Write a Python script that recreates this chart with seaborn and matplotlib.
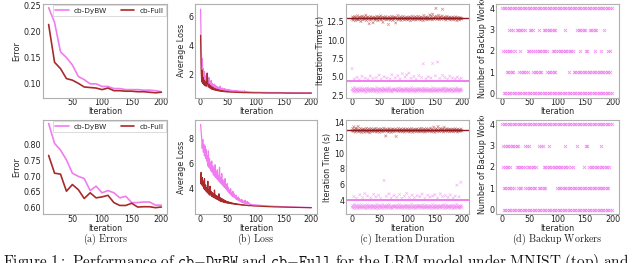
import numpy as np
import pandas as pd
import matplotlib
matplotlib.use('Agg')
import matplotlib.pyplot as plt
from matplotlib.transforms import Bbox, TransformedBbox
import seaborn as sns

sns.set_theme(style='ticks')
plt.rcParams['font.family'] = ['DejaVu Sans']
plt.rcParams['mathtext.fontset'] = 'cm'

PINK = '#f07cf0'
RED = '#a82a2a'
FS = 5.8

# ---------------- data ----------------
err_iters = [10, 20, 30, 40, 50, 60, 70, 80, 90, 100,
             110, 120, 130, 140, 150, 160, 170, 180, 190, 200]
err_dybw_top = [0.245, 0.217, 0.161, 0.150, 0.136, 0.114, 0.108, 0.100, 0.100, 0.095,
                0.095, 0.091, 0.091, 0.089, 0.089, 0.089, 0.088, 0.088, 0.087, 0.085]
err_full_top = [0.213, 0.141, 0.129, 0.110, 0.107, 0.101, 0.094, 0.093, 0.092, 0.089,
                0.092, 0.087, 0.087, 0.086, 0.086, 0.085, 0.085, 0.084, 0.083, 0.084]
err_dybw_bot = [0.866, 0.803, 0.782, 0.751, 0.709, 0.699, 0.692, 0.654, 0.668, 0.647,
                0.654, 0.647, 0.631, 0.636, 0.616, 0.616, 0.618, 0.618, 0.608, 0.608]
err_full_bot = [0.765, 0.709, 0.706, 0.652, 0.673, 0.657, 0.629, 0.647, 0.631, 0.634,
                0.639, 0.616, 0.607, 0.607, 0.614, 0.602, 0.603, 0.603, 0.600, 0.602]

loss_iters = list(range(1, 91)) + list(range(95, 201, 5))
loss_dybw_top = [6.5, 4.3, 2.6, 3.1, 1.9, 2.4, 1.6, 2.2, 1.5, 1.9,
                 1.4, 2.1, 1.3, 1.7, 1.45, 1.8, 1.2, 1.5, 1.3, 1.6,
                 1.1, 1.4, 1.2, 1.3, 1.0, 1.35, 1.1, 1.25, 1.0, 1.2,
                 0.98, 1.15, 1.05, 1.1, 0.95, 1.2, 0.97, 1.05, 0.95, 1.08,
                 0.93, 1.02, 0.92, 1.05, 0.9, 1.0, 0.92, 0.97, 0.89, 0.98,
                 0.88, 0.95, 0.9, 0.96, 0.87, 0.93, 0.88, 0.91, 0.86, 0.92,
                 0.86, 0.9, 0.85, 0.91, 0.85, 0.88, 0.84, 0.89, 0.84, 0.87,
                 0.83, 0.88, 0.83, 0.86, 0.82, 0.87, 0.82, 0.85, 0.82, 0.9,
                 0.81, 0.84, 0.81, 0.83, 0.8, 0.83, 0.8, 0.82, 0.8, 0.81,
                 0.8, 0.79, 0.79, 0.78, 0.78, 0.78, 0.77, 0.77, 0.77, 0.77, 0.76,
                 0.76, 0.76, 0.76, 0.76, 0.75, 0.75, 0.75, 0.75, 0.75, 0.75, 0.75]
loss_full_top = [4.7, 2.4, 1.5, 2.3, 1.4, 1.8, 1.3, 1.6, 1.25, 1.5,
                 1.2, 1.5, 2.1, 1.3, 1.15, 1.35, 1.1, 1.25, 1.05, 1.2,
                 1.0, 1.15, 0.98, 1.1, 0.95, 1.05, 0.93, 1.02, 0.92, 1.0,
                 0.9, 0.98, 0.88, 0.95, 0.87, 0.93, 0.86, 0.91, 0.85, 0.9,
                 0.84, 0.88, 0.83, 0.87, 0.82, 0.86, 0.82, 0.85, 0.81, 0.84,
                 0.81, 0.83, 0.8, 0.82, 0.8, 0.82, 0.79, 0.81, 0.79, 0.8,
                 0.79, 0.8, 0.78, 0.8, 0.78, 0.79, 0.78, 0.79, 0.77, 0.79,
                 0.77, 0.78, 0.77, 0.78, 0.77, 0.78, 0.76, 0.77, 0.76, 0.77,
                 0.76, 0.77, 0.76, 0.77, 0.76, 0.76, 0.75, 0.76, 0.75, 0.76,
                 0.75, 0.75, 0.75, 0.75, 0.74, 0.74, 0.74, 0.74, 0.74, 0.74, 0.74,
                 0.74, 0.73, 0.73, 0.73, 0.73, 0.73, 0.73, 0.73, 0.73, 0.73, 0.73]
loss_dybw_bot = [9.1, 8.6, 8.0, 7.2, 7.9, 6.9, 7.5, 6.6, 7.4, 6.4,
                 7.1, 6.2, 6.6, 5.8, 7.0, 5.7, 6.4, 5.6, 6.1, 5.4,
                 6.2, 5.3, 5.8, 5.1, 5.6, 5.0, 5.9, 4.9, 5.3, 4.8,
                 5.5, 4.7, 5.0, 4.6, 5.7, 4.5, 4.9, 4.4, 5.2, 4.3,
                 4.7, 4.2, 4.5, 4.1, 4.8, 4.0, 4.3, 3.9, 4.4, 3.8,
                 4.1, 3.7, 3.9, 3.6, 4.0, 3.5, 3.7, 3.4, 3.8, 3.35,
                 3.6, 3.3, 3.45, 3.2, 3.5, 3.15, 3.3, 3.1, 3.35, 3.05,
                 3.2, 3.0, 3.1, 2.95, 3.15, 2.9, 3.05, 2.88, 3.0, 2.85,
                 3.1, 2.85, 2.95, 2.82, 3.0, 2.8, 2.9, 2.78, 2.85, 2.76,
                 2.74, 2.72, 2.7, 2.68, 2.66, 2.65, 2.63, 2.62, 2.61, 2.6, 2.59,
                 2.58, 2.57, 2.56, 2.55, 2.55, 2.54, 2.53, 2.53, 2.52, 2.52, 2.51]
loss_full_bot = [4.4, 5.3, 4.3, 4.9, 4.2, 4.6, 4.0, 4.8, 3.9, 4.3,
                 3.8, 4.1, 3.7, 4.6, 3.6, 3.9, 3.5, 4.2, 3.5, 3.8,
                 3.4, 3.7, 3.35, 3.6, 3.3, 3.9, 3.25, 3.5, 3.2, 3.45,
                 3.15, 3.4, 3.1, 3.6, 3.05, 3.3, 3.0, 3.25, 2.98, 3.2,
                 2.95, 3.15, 2.92, 3.1, 2.9, 3.05, 2.88, 3.0, 2.86, 2.98,
                 2.85, 2.95, 2.83, 2.92, 2.82, 2.9, 2.8, 2.88, 2.79, 2.85,
                 2.78, 2.84, 2.77, 2.82, 2.76, 2.8, 2.75, 2.79, 2.74, 2.78,
                 2.73, 2.77, 2.72, 2.75, 2.71, 2.74, 2.7, 2.73, 2.69, 2.72,
                 2.69, 2.71, 2.68, 2.7, 2.67, 2.69, 2.66, 2.68, 2.65, 2.67,
                 2.64, 2.63, 2.62, 2.61, 2.6, 2.59, 2.58, 2.57, 2.56, 2.56, 2.55,
                 2.55, 2.54, 2.54, 2.53, 2.53, 2.52, 2.52, 2.51, 2.51, 2.5, 2.5]

# iteration duration, one value per iteration 0..199
time_iters = list(range(200))
time_full_top = [
    12.84, 13.12, 12.71, 13.03, 12.92, 13.21, 12.63, 13.05, 12.88, 12.79, 13.31, 12.74, 13.02, 12.95, 13.14, 12.81, 12.52, 13.06, 13.24, 12.93,
    12.76, 13.01, 13.17, 12.85, 12.97, 13.38, 12.66, 13.08, 12.83, 13.13, 12.91, 12.22, 13.04, 12.73, 13.19, 12.94, 12.82, 13.07, 12.35, 12.96,
    13.11, 12.87, 12.72, 13.02, 12.93, 13.23, 12.86, 12.64, 13.04, 13.15, 12.98, 12.81, 13.29, 12.75, 13.06, 12.92, 12.41, 13.12, 12.84, 13.03,
    12.95, 13.18, 12.77, 12.91, 13.05, 12.83, 12.12, 13.14, 12.96, 12.71, 13.02, 12.87, 13.22, 12.94, 12.68, 13.07, 12.85, 13.13, 12.99, 12.33,
    13.04, 12.82, 12.94, 13.33, 12.76, 13.01, 12.93, 12.86, 13.16, 12.67, 12.92, 13.06, 12.84, 13.21, 12.97, 12.74, 13.03, 12.95, 12.81, 13.12,
    12.93, 12.73, 13.05, 12.84, 13.14, 12.96, 12.62, 13.02, 12.87, 13.24, 12.91, 12.78, 13.07, 12.83, 12.98, 13.17, 12.72, 13.04, 12.94, 12.86,
    13.22, 12.95, 12.83, 13.06, 12.74, 13.13, 12.92, 12.85, 13.03, 12.65, 13.34, 12.97, 12.81, 13.05, 12.93, 13.15, 12.76, 12.96, 13.08, 12.84,
    12.91, 13.42, 12.86, 13.04, 13.25, 12.75, 13.51, 12.94, 13.02, 12.83, 13.16, 12.95, 14.31, 13.23, 12.82, 13.07, 12.93, 13.36, 12.77, 13.05,
    13.13, 12.92, 12.84, 13.27, 14.18, 12.96, 13.04, 12.85, 13.14, 12.93, 12.73, 13.02, 13.21, 12.94, 12.86, 13.05, 12.92, 13.11, 12.74, 12.97,
    13.03, 12.85, 12.94, 13.12, 12.76, 13.01, 12.92, 12.83, 13.15, 12.95, 12.64, 13.06, 12.84, 12.93, 13.04, 12.73, 12.96, 13.02, 12.87, 12.91]
time_dybw_top = [
    3.18, 3.42, 3.02, 3.31, 3.12, 3.55, 2.93, 3.27, 3.21, 3.38, 3.09, 2.98, 3.44, 3.16, 3.29, 3.04, 3.23, 3.51, 3.11, 3.34,
    3.03, 3.26, 3.19, 3.41, 3.08, 2.91, 3.33, 3.22, 3.48, 3.01, 3.17, 3.39, 3.13, 3.28, 2.99, 3.24, 3.43, 3.06, 3.32, 3.15,
    3.37, 3.11, 2.96, 3.29, 3.2, 3.53, 3.07, 3.25, 2.92, 3.35, 3.18, 3.41, 3.02, 3.3, 3.1, 3.23, 3.49, 2.97, 3.21, 3.36,
    3.12, 3.31, 3.19, 2.99, 3.45, 3.22, 3.08, 3.34, 3.52, 3.01, 3.17, 3.28, 3.09, 2.94, 3.32, 3.2, 3.4, 3.13, 3.24, 3.3,
    3.21, 3.0, 3.43, 3.1, 3.27, 3.16, 3.5, 3.04, 3.19, 3.33, 3.07, 3.38, 3.22, 2.98, 3.29, 3.11, 3.25, 3.44, 3.03, 3.35,
    3.28, 3.06, 3.2, 3.41, 2.97, 3.18, 3.31, 3.09, 3.54, 3.23, 3.01, 3.3, 3.15, 3.39, 3.12, 2.93, 3.34, 3.21, 3.08, 3.42,
    3.19, 3.33, 3.02, 3.24, 3.4, 3.1, 3.3, 3.17, 2.99, 3.47, 3.22, 3.08, 3.35, 3.03, 3.2, 3.43, 3.11, 3.28, 3.16, 3.0,
    3.39, 3.12, 3.23, 3.32, 2.96, 3.18, 3.51, 3.07, 3.29, 3.21, 3.02, 3.44, 3.16, 3.09, 3.34, 3.2, 2.98, 3.41, 3.13, 3.25,
    3.31, 3.17, 3.01, 3.42, 3.1, 3.22, 3.36, 3.49, 2.97, 3.19, 3.08, 3.3, 3.45, 3.04, 3.24, 3.12, 3.33, 3.2, 3.0, 3.4,
    3.14, 3.29, 3.21, 2.95, 3.43, 3.09, 3.18, 3.35, 3.03, 3.23, 3.52, 3.11, 3.3, 3.19, 2.99, 3.32, 3.07, 3.26, 3.38, 3.12]
slow_x_top = [0, 4, 9, 13, 18, 24, 29, 33, 38, 44, 49, 53, 58, 63, 69, 72, 78, 83, 87, 91, 96, 99, 103,
              107, 112, 116, 121, 126, 129, 134, 138, 143, 146, 151, 155, 159, 164, 168, 173, 177, 182, 187, 191, 195, 198]
slow_y_top = [6.12, 4.71, 4.95, 4.62, 5.08, 4.83, 4.66, 5.12, 4.78, 4.92, 5.24, 4.69, 5.03, 4.85, 4.74, 5.31, 4.88, 5.16, 4.72, 5.45, 4.96, 5.28, 5.52,
              4.81, 5.06, 4.67, 5.19, 4.93, 6.78, 4.75, 5.02, 4.86, 6.83, 5.14, 7.02, 4.79, 5.21, 4.91, 4.68, 5.09, 4.84, 4.73, 4.97, 4.65, 4.82]
time_full_bot = [
    12.91, 13.18, 12.83, 13.42, 12.97, 13.05, 12.74, 13.26, 12.88, 13.11, 12.95, 13.47, 12.79, 13.02, 12.86, 13.21, 12.93, 12.68, 13.08, 12.99,
    12.82, 13.14, 12.96, 12.73, 13.07, 12.89, 13.23, 12.84, 13.01, 12.77, 13.16, 12.92, 12.65, 13.09, 12.87, 13.19, 12.94, 12.81, 13.04, 12.9,
    13.13, 12.86, 12.97, 13.22, 12.75, 13.03, 12.92, 12.83, 13.15, 12.96, 12.71, 13.08, 12.88, 13.17, 12.94, 12.79, 13.05, 12.91, 13.24, 12.85,
    12.98, 12.24, 13.12, 12.87, 12.93, 13.06, 12.76, 13.19, 12.89, 13.02, 12.95, 12.72, 13.1, 12.84, 13.15, 12.97, 12.81, 13.04, 12.9, 13.13,
    12.18, 12.88, 13.01, 12.94, 13.21, 12.78, 12.96, 13.07, 12.85, 13.14, 12.93, 12.8, 13.03, 12.91, 13.18, 12.74, 12.99, 13.09, 12.87, 12.95,
    13.16, 12.83, 12.97, 13.05, 12.76, 13.12, 12.92, 12.86, 13.2, 12.95, 12.73, 13.04, 12.9, 13.11, 12.84, 12.98, 13.07, 12.81, 13.15, 12.93,
    12.89, 13.02, 12.78, 13.17, 12.94, 12.85, 13.23, 12.97, 12.8, 13.06, 12.91, 13.13, 12.75, 13.01, 12.88, 13.19, 12.96, 12.83, 13.08, 12.92,
    13.04, 12.87, 13.25, 12.93, 12.79, 13.11, 12.98, 12.84, 13.38, 12.95, 12.72, 13.07, 12.9, 13.16, 12.86, 13.02, 13.45, 12.94, 12.81, 13.1,
    12.97, 13.2, 12.85, 13.03, 12.92, 13.14, 12.77, 13.36, 12.99, 12.88, 13.06, 12.93, 13.18, 12.82, 13.01, 12.95, 13.12, 12.79, 13.05, 12.9,
    13.09, 12.84, 12.96, 13.13, 12.8, 13.02, 12.92, 13.17, 12.87, 12.98, 13.06, 12.76, 13.11, 12.93, 12.85, 13.04, 12.97, 12.89, 13.14, 12.91]
time_dybw_bot = [
    3.08, 3.31, 2.95, 3.22, 3.04, 3.44, 2.89, 3.17, 3.12, 3.29, 3.01, 2.92, 3.35, 3.07, 3.2, 2.97, 3.14, 3.41, 3.03, 3.25,
    2.96, 3.18, 3.1, 3.33, 3.0, 2.88, 3.24, 3.13, 3.39, 2.94, 3.09, 3.3, 3.05, 3.19, 2.91, 3.15, 3.34, 2.98, 3.23, 3.06,
    3.28, 3.02, 2.9, 3.21, 3.11, 3.43, 2.99, 3.16, 2.87, 3.26, 3.09, 3.32, 2.95, 3.22, 3.01, 3.14, 3.4, 2.9, 3.12, 3.27,
    3.03, 3.23, 3.1, 2.93, 3.36, 3.13, 3.0, 3.25, 3.42, 2.94, 3.08, 3.19, 3.01, 2.89, 3.24, 3.11, 3.31, 3.04, 3.15, 3.21,
    3.12, 2.93, 3.34, 3.02, 3.18, 3.07, 3.41, 2.96, 3.1, 3.24, 2.99, 3.29, 3.13, 2.91, 3.2, 3.03, 3.16, 3.35, 2.95, 3.26,
    3.19, 2.98, 3.11, 3.32, 2.9, 3.09, 3.22, 3.0, 3.45, 3.14, 2.94, 3.21, 3.06, 3.3, 3.03, 2.88, 3.25, 3.12, 3.0, 3.33,
    3.1, 3.24, 2.95, 3.15, 3.31, 3.02, 3.21, 3.08, 2.92, 3.38, 3.13, 3.0, 3.26, 2.96, 3.11, 3.34, 3.03, 3.19, 3.07, 2.93,
    3.3, 3.04, 3.14, 3.23, 2.9, 3.09, 3.42, 2.99, 3.2, 3.12, 2.95, 3.35, 3.07, 3.01, 3.25, 3.11, 2.91, 3.32, 3.05, 3.16,
    3.22, 3.08, 2.94, 3.33, 3.02, 3.13, 3.27, 3.4, 2.9, 3.1, 3.0, 3.21, 3.36, 2.97, 3.15, 3.04, 3.24, 3.11, 2.93, 3.31,
    3.05, 3.2, 3.12, 2.89, 3.34, 3.01, 3.09, 3.26, 2.96, 3.14, 3.43, 3.03, 3.21, 3.1, 2.92, 3.23, 2.99, 3.17, 3.29, 3.04]
slow_x_bot = [3, 8, 14, 19, 23, 28, 34, 39, 43, 48, 52, 58, 62, 67, 71, 76, 81, 86, 90, 95, 99, 104,
              109, 113, 118, 123, 127, 132, 137, 141, 146, 150, 155, 160, 164, 169, 174, 178, 183, 187, 190, 194, 197]
slow_y_bot = [4.45, 4.22, 4.68, 4.31, 4.83, 4.52, 4.27, 4.74, 4.39, 4.61, 4.18, 6.52, 4.47, 4.79, 4.25, 4.58, 4.36, 4.71, 4.21, 4.49, 4.85, 4.33,
              4.64, 4.29, 4.55, 4.42, 4.76, 4.2, 4.62, 4.38, 4.51, 4.69, 4.26, 4.8, 4.43, 4.57, 4.34, 4.67, 4.24, 4.5, 5.92, 4.41, 6.28]
avg_time_top = {'cb-Full': 12.95, 'cb-DyBW': 4.40}
avg_time_bot = {'cb-Full': 12.95, 'cb-DyBW': 4.05}

# backup workers: iteration spans (start, end) for each count
backup_top = {
    4: [(0, 198)],
    3: [(13, 20), (26, 43), (50, 58), (67, 67), (75, 97), (114, 114), (135, 152), (158, 172), (184, 184)],
    2: [(2, 8), (12, 20), (23, 23), (33, 33), (46, 55), (60, 83), (91, 99), (101, 130), (141, 141),
        (151, 156), (168, 168), (178, 178), (191, 195)],
    1: [(8, 20), (31, 46), (56, 72), (81, 97), (120, 120), (129, 191), (192, 197)],
    0: [(3, 199)],
}
backup_bot = {
    4: [(0, 198)],
    3: [(2, 14), (17, 31), (42, 50), (67, 74), (84, 84), (114, 114), (135, 135), (151, 155), (178, 178)],
    2: [(2, 14), (26, 43), (46, 61), (75, 99), (101, 119), (125, 130), (147, 147), (157, 194)],
    1: [(3, 23), (29, 35), (42, 61), (66, 78), (99, 160), (162, 194)],
    0: [(3, 199)],
}
BACKUP_STEP = 3

captions = ['(a)\\ Errors', '(b)\\ Loss', '(c)\\ Iteration\\ Duration', '(d)\\ Backup\\ Workers']

# ---------------- figure ----------------
W, H = 640, 263
fig = plt.figure(figsize=(W / 100, H / 100), dpi=100)
cols = [(43, 167), (195, 317), (346, 469), (496, 619)]
rows = [(4, 97.5), (120, 214)]


def make_ax(r, c):
    x0, x1 = cols[c]
    t, b = rows[r]
    return fig.add_axes([x0 / W, 1 - b / H, (x1 - x0) / W, (b - t) / H])


def style(ax):
    for s in ax.spines.values():
        s.set_color('#b0b0b0')
        s.set_linewidth(0.8)
    ax.tick_params(labelsize=FS, length=0, pad=1.2, labelcolor='#222222')
    ax.tick_params(axis='x', pad=0.6)
    ax.xaxis.label.set_size(FS)
    ax.yaxis.label.set_size(FS)
    ax.xaxis.labelpad = 0
    ax.yaxis.labelpad = 1.5


def long_df(x, series):
    parts = []
    for name, vals in series.items():
        parts.append(pd.DataFrame({'Iteration': x, 'value': vals, 'Method': name}))
    return pd.concat(parts, ignore_index=True)


palette = {'cb-DyBW': PINK, 'cb-Full': RED}
err_sets = [(err_dybw_top, err_full_top, (0.074, 0.252), [0.10, 0.15, 0.20, 0.25]),
            (err_dybw_bot, err_full_bot, (0.58, 0.877), [0.60, 0.65, 0.70, 0.75, 0.80])]
loss_sets = [(loss_dybw_top, loss_full_top, (0.43, 6.85), [2, 4, 6]),
             (loss_dybw_bot, loss_full_bot, (2.0, 9.45), [4, 6, 8])]
time_sets = [(time_dybw_top, time_full_top, slow_x_top, slow_y_top, avg_time_top, (2.2, 14.9),
              [2.5, 5.0, 7.5, 10.0, 12.5]),
             (time_dybw_bot, time_full_bot, slow_x_bot, slow_y_bot, avg_time_bot, (2.2, 14.3),
              [4, 6, 8, 10, 12, 14])]
backup_sets = [backup_top, backup_bot]

for r in range(2):
    # errors
    ax = make_ax(r, 0)
    dy, fu, ylim, yt = err_sets[r]
    df = long_df(err_iters, {'cb-DyBW': dy, 'cb-Full': fu})
    sns.lineplot(data=df, x='Iteration', y='value', hue='Method', palette=palette,
                 estimator=None, lw=1.2, ax=ax)
    ax.set_xlim(0.5, 209.5)
    ax.set_ylim(*ylim)
    ax.set_yticks(yt)
    ax.set_yticklabels([f'{v:.2f}' for v in yt])
    ax.set_xticks([50, 100, 150, 200])
    ax.set_ylabel('Error')
    leg = ax.legend(ncol=2, loc='upper right', fontsize=5.3, frameon=True, handlelength=1.8,
                    columnspacing=1.9, borderpad=0.35, handletextpad=0.7,
                    borderaxespad=0.15, fancybox=False)
    leg.get_frame().set_edgecolor('#cccccc')
    leg.get_frame().set_linewidth(0.6)
    style(ax)

    # loss
    ax = make_ax(r, 1)
    dy, fu, ylim, yt = loss_sets[r]
    df = long_df(loss_iters, {'cb-DyBW': dy, 'cb-Full': fu})
    sns.lineplot(data=df, x='Iteration', y='value', hue='Method', palette=palette,
                 estimator=None, lw=0.9, ax=ax, legend=False)
    ax.set_xlim(-9, 210)
    ax.set_ylim(*ylim)
    ax.set_yticks(yt)
    ax.set_xticks([0, 50, 100, 150, 200])
    ax.set_ylabel('Average Loss')
    style(ax)

    # iteration duration
    ax = make_ax(r, 2)
    dy, fu, sx, sy, avg, ylim, yt = time_sets[r]
    pts = pd.concat([
        pd.DataFrame({'Iteration': time_iters, 'Time': fu, 'Method': 'cb-Full'}),
        pd.DataFrame({'Iteration': time_iters, 'Time': dy, 'Method': 'cb-DyBW'}),
        pd.DataFrame({'Iteration': sx, 'Time': sy, 'Method': 'cb-DyBW'}),
    ], ignore_index=True)
    sns.scatterplot(data=pts, x='Iteration', y='Time', hue='Method', palette=palette,
                    marker='x', s=4, linewidth=0.5, alpha=0.5, ax=ax, legend=False)
    ax.axhline(avg['cb-Full'], color='#8c1c1c', lw=1.0)
    ax.axhline(avg['cb-DyBW'], color=PINK, lw=1.4)
    ax.set_xlim(-11, 212)
    ax.set_ylim(*ylim)
    ax.set_yticks(yt)
    ax.set_xticks([0, 50, 100, 150, 200])
    ax.set_ylabel('Iteration Time (s)')
    style(ax)

    # backup workers
    ax = make_ax(r, 3)
    recs = []
    for level, spans in backup_sets[r].items():
        for a, b in spans:
            for it in range(a, b + 1, BACKUP_STEP):
                recs.append((it, level))
    bdf = pd.DataFrame(recs, columns=['Iteration', 'Workers'])
    sns.scatterplot(data=bdf, x='Iteration', y='Workers', color=PINK, marker='x',
                    s=5, linewidth=0.6, alpha=0.8, ax=ax)
    ax.set_xlim(-11, 211)
    ax.set_ylim(-0.2, 4.2)
    ax.set_yticks([0, 1, 2, 3, 4])
    ax.set_xticks([0, 50, 100, 150, 200])
    ax.set_ylabel('Number of Backup Workers', loc='bottom')
    style(ax)
    if r == 1:
        lab = ax.yaxis.label
        lab.set_clip_on(True)
        lab.set_clip_box(TransformedBbox(Bbox([[0, 0], [1, 1 - 116 / H]]), fig.transFigure))

for c, cap in enumerate(captions):
    x0, x1 = cols[c]
    fig.text((x0 + x1) / 2 / W, 1 - 239.5 / H, f'$\\mathrm{{{cap}}}$', ha='center', va='center',
             fontsize=7.2, color='#222222')

fig.text(0.004, 1 - 252 / H,
         r'$\mathrm{Figure\ 1{:}\ Performance\ of\ }\mathtt{cb{-}DyBW}\mathrm{\ and\ }'
         r'\mathtt{cb{-}Full}\mathrm{\ for\ the\ LRM\ model\ under\ MNIST\ (top)\ and}$',
         ha='left', va='top', fontsize=11.0, color='#111111')

fig.savefig('out.png', dpi=100)
